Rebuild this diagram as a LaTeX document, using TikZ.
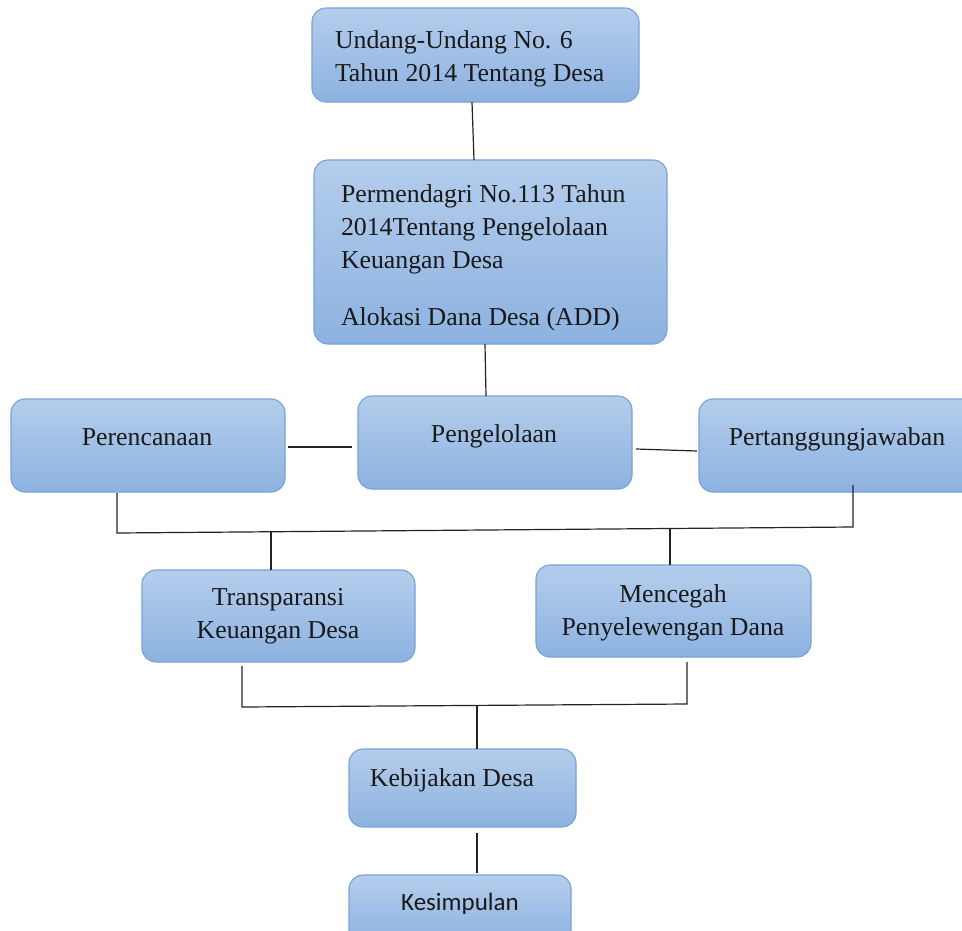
\documentclass[tikz,border=0pt]{standalone}
\usepackage{fontspec}
\setmainfont{Liberation Serif}
\newfontfamily\calibrifont{Carlito}
\usetikzlibrary{calc}
\definecolor{boxtop}{RGB}{180,205,236}
\definecolor{boxbot}{RGB}{141,178,224}
\definecolor{boxline}{RGB}{118,162,216}
\definecolor{wirecol}{RGB}{35,35,35}
\begin{document}
\begin{tikzpicture}[x=1pt,y=-1pt,
  box/.style={draw=boxline, line width=1.1pt, rounded corners=14pt, top color=boxtop, bottom color=boxbot, inner sep=0pt, outer sep=0pt},
  txt/.style={inner sep=0pt, outer sep=0pt, text=black!90, font=\fontsize{25.8}{33}\selectfont},
  wire/.style={draw=wirecol, line width=1.2pt}]
\useasboundingbox (0,0) rectangle (962,930);
% boxes
\node[box, minimum width=327pt, minimum height=94pt] (uu) at (475.5,55) {};
\node[box, minimum width=353pt, minimum height=184pt] (pm) at (490.5,252) {};
\node[box, minimum width=274pt, minimum height=93pt] (per) at (148,445.5) {};
\node[box, minimum width=274pt, minimum height=93pt] (pg) at (495,442.5) {};
\node[box, minimum width=281pt, minimum height=93pt] (pt) at (839.5,445.5) {};
\node[box, minimum width=273pt, minimum height=92pt] (tr) at (278.5,616) {};
\node[box, minimum width=275pt, minimum height=92pt] (mc) at (673.5,611) {};
\node[box, minimum width=227pt, minimum height=78pt] (kb) at (462.5,788) {};
\node[box, minimum width=222pt, minimum height=70pt] (ks) at (460,910) {};
% texts
\node[txt, anchor=west, align=left] (uut) at (335,59) {Undang-Undang No. 6\\Tahun 2014 Tentang Desa};
\node[txt, anchor=west, align=left] (pmt) at (341,258) {Permendagri No.113 Tahun\\2014Tentang Pengelolaan\\Keuangan Desa\\[24pt]Alokasi Dana Desa (ADD)};
\node[txt, anchor=base] (pert) at (147,445) {Perencanaan};
\node[txt, anchor=base] (pgt) at (494,442) {Pengelolaan};
\node[txt, anchor=base] (ptt) at (837,445) {Pertanggungjawaban};
\node[txt, align=center] (trt) at (278,616.5) {Transparansi\\Keuangan Desa};
\node[txt, align=center] (mct) at (673,612.5) {Mencegah\\Penyelewengan Dana};
\node[txt, anchor=base] (kbt) at (452,786) {Kebijakan Desa};
\node[inner sep=0pt, anchor=base, text=black!90, font=\calibrifont\fontsize{25}{28}\selectfont] (kst) at (460,910) {Kesimpulan};
% connectors
\draw[wire] ([shift={(-3.5,0)}]uu.south) -- ([shift={(-16.5,0)}]pm.north);
\draw[wire] ([shift={(-5.5,0)}]pm.south) -- ([shift={(-9,0)}]pg.north);
\draw[wire] ([shift={(3,1.5)}]per.east) -- ([shift={(-6,4.5)}]pg.west);
\draw[wire] ([shift={(4,6.5)}]pg.east) -- ([shift={(-2,5.5)}]pt.west);
\coordinate (j1) at (117,533);
\coordinate (j2) at (853,527);
\draw[wire] ([shift={(-31,1)}]per.south) -- (j1) -- (j2) -- ([shift={(13.5,-7)}]pt.south);
\coordinate (d1) at (271,532);
\coordinate (d2) at (670,528.5);
\draw[wire] (d1) -- (d1 |- tr.north);
\draw[wire] (d2) -- (d2 |- mc.north);
\coordinate (j3) at (242,707);
\coordinate (j4) at (687,704);
\draw[wire] ([shift={(-36.5,4)}]tr.south) -- (j3) -- (j4) -- ([shift={(13.5,5)}]mc.south);
\coordinate (d3) at (477,705.5);
\draw[wire] (d3) -- (d3 |- kb.north);
\draw[wire] ([shift={(14.5,6)}]kb.south) -- ([shift={(17,-2)}]ks.north);
\end{tikzpicture}
\end{document}
